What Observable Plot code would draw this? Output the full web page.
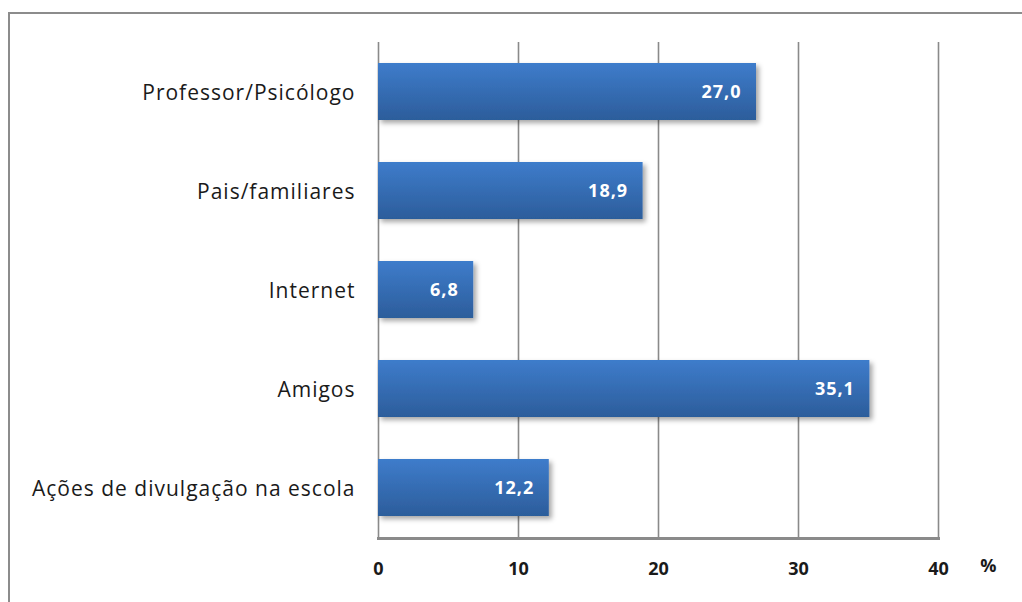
<!DOCTYPE html>
<html>
<head>
<meta charset="utf-8">
<script src="https://cdn.jsdelivr.net/npm/d3@7"></script>
<script src="https://cdn.jsdelivr.net/npm/@observablehq/plot@0.6"></script>
<style>
  html, body { margin: 0; padding: 0; background: #fff; overflow: hidden; width: 1022px; height: 602px; }
  #frame { position: absolute; left: 8px; top: 12px; width: 2000px; height: 2000px;
           border-top: 2px solid #8c8c8c; border-left: 2px solid #8c8c8c; box-sizing: border-box; }
  #chart { position: absolute; left: 0; top: 0; width: 1022px; height: 602px; }
  #chart svg { background: transparent !important; overflow: visible; }
</style>
</head>
<body>
<div id="frame"></div>
<div id="chart"></div>
<script>
const categories = ["Professor/Psicólogo", "Pais/familiares", "Internet", "Amigos", "Ações de divulgação na escola"];
const values = [27.0, 18.9, 6.8, 35.1, 12.2];
const xTicks = [0, 10, 20, 30, 40];
const unitLabel = "%";

const data = categories.map((c, i) => ({category: c, value: values[i]}));
const fmt = v => v.toFixed(1).replace(".", ",");

const plot = Plot.plot({
  width: 1022,
  height: 602,
  marginLeft: 378,
  marginRight: 84,
  marginTop: 42,
  marginBottom: 64,
  style: {fontFamily: "'Open Sans', sans-serif", background: "transparent", overflow: "visible", color: "#1a1a1a"},
  x: {domain: [0, 40], ticks: xTicks, label: null, tickSize: 0, tickPadding: 24, tickFormat: d => String(d)},
  y: {domain: categories, paddingInner: 0.42, paddingOuter: 0.21, label: null, tickSize: 0, tickPadding: 23},
  marks: [
    Plot.ruleX(xTicks, {x: d => d, stroke: "#8a8a8a", strokeWidth: 1.6, strokeOpacity: 1}),
    Plot.frame({anchor: "bottom", stroke: "#8a8a8a", strokeWidth: 3}),
    Plot.barX(data, {x: "value", y: "category", fill: "url(#barGrad)"}),
    Plot.text(data, {x: "value", y: "category", text: d => fmt(d.value), textAnchor: "end", dx: -15,
      fill: "white", fontWeight: "bold", fontSize: 18}),
    Plot.text([unitLabel], {frameAnchor: "bottom-right", text: d => d, dx: 59, dy: 33,
      fontSize: 18, fontWeight: "bold", fill: "#1a1a1a"})
  ]
});

const svg = d3.select(plot);
const defs = svg.insert("defs", ":first-child");
const g = defs.append("linearGradient").attr("id", "barGrad").attr("x1", 0).attr("y1", 0).attr("x2", 0).attr("y2", 1);
g.append("stop").attr("offset", "0%").attr("stop-color", "#3e7ccb");
g.append("stop").attr("offset", "100%").attr("stop-color", "#2c5d9b");
const f = defs.append("filter").attr("id", "shadow").attr("x", "-5%").attr("y", "-20%").attr("width", "120%").attr("height", "160%");
f.append("feDropShadow").attr("dx", 3).attr("dy", 3).attr("stdDeviation", 2.5).attr("flood-color", "#000").attr("flood-opacity", 0.35);
svg.selectAll("g[aria-label=bar]").attr("filter", "url(#shadow)");
svg.selectAll("g[aria-label='y-axis tick label']").attr("font-size", 21)
  .selectAll("text").style("letter-spacing", "1px").attr("dy", "0.06em");
svg.selectAll("g[aria-label='x-axis tick label']").attr("font-size", 18).attr("font-weight", "bold");
svg.selectAll("g[aria-label=text] text").style("letter-spacing", "1px");

document.getElementById("chart").appendChild(plot);
</script>
</body>
</html>
